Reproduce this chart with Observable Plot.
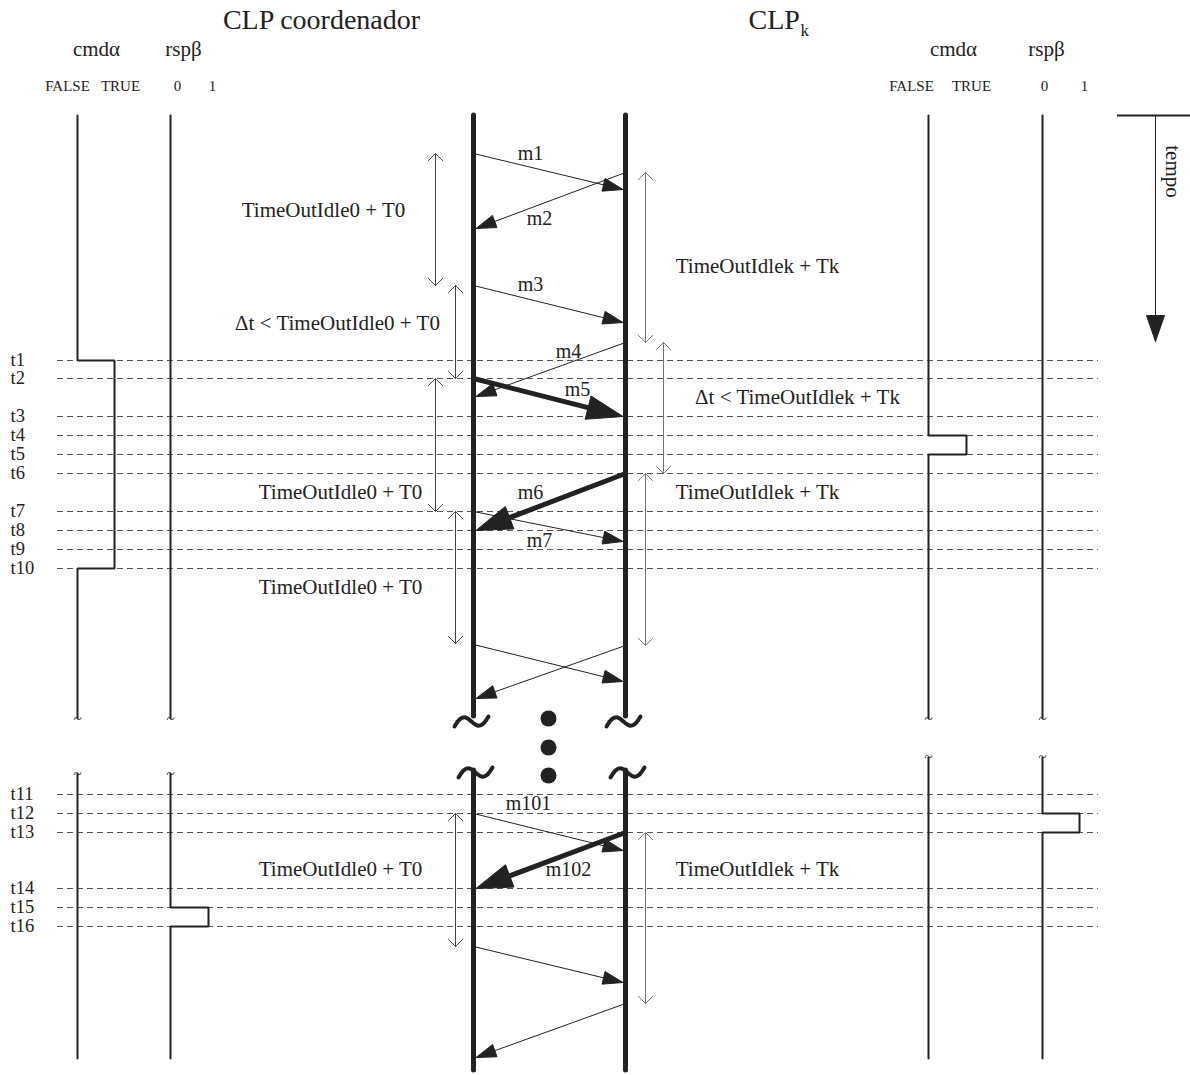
<!DOCTYPE html>
<html>
<head>
<meta charset="utf-8">
<script src="https://cdn.jsdelivr.net/npm/d3@7"></script>
<script src="https://cdn.jsdelivr.net/npm/@observablehq/plot@0.6"></script>
<style>
  html, body { margin: 0; padding: 0; background: #fff; }
  svg { display: block; }
</style>
</head>
<body>
<script>
// ---------------- DATA ----------------
// event instants (vertical time position, top = earliest)
const tNames  = ["t1","t2","t3","t4","t5","t6","t7","t8","t9","t10","t11","t12","t13","t14","t15","t16"];
const tValues = [360,378,416,435,454,473,511,530,549,568,794,813,832,888,907,926];

// signal lanes (cmdα / rspβ of each CLP)
const laneNames  = ["cmdα0","rspβ0","cmdαk","rspβk"];
const laneLow    = [77,170,928,1042];   // FALSE / 0
const laneHigh   = [114,208,966,1079];  // TRUE / 1
const laneBreakResume = [773,773,757,757];
// pulses: lane, rise instant, fall instant
const pulseLane = ["cmdα0","rspβ0","cmdαk","rspβk"];
const pulseRise = ["t1","t15","t4","t12"];
const pulseFall = ["t10","t16","t5","t13"];

// time span of the diagram and its break
const timeStart = 115, breakStart = 716, breakEnd = 770, timeEnd = 1070, laneEnd = 1058;

// processes (lifelines)
const procNames = ["coord","k"];
const procX = [473,625];

// messages
const msgLabels  = ["m1","m2","m3","m4","m5","m6","m7","","","m101","m102","",""];
const msgFrom    = ["coord","k","coord","k","coord","k","coord","coord","k","coord","k","coord","k"];
const msgSent    = [153,172,285,342,378,473,511,644,645,813,832,946,1003];
const msgArrived = [189,228,322,396,416,530,541,681,698,850,888,982,1057];
const msgBold    = [false,false,false,false,true,true,false,false,false,false,true,false,false];

// timeout intervals
const ivProc  = ["coord","coord","coord","coord","coord","k","k","k","k"];
const ivStart = [153,285,378,511,813,172,342,473,832];
const ivEnd   = [285,378,511,643,946,342,473,645,1003];
const ivLabel = ["TimeOutIdle0 + T0","Δt < TimeOutIdle0 + T0","TimeOutIdle0 + T0","TimeOutIdle0 + T0","TimeOutIdle0 + T0",
                 "TimeOutIdlek + Tk","Δt < TimeOutIdlek + Tk","TimeOutIdlek + Tk","TimeOutIdlek + Tk"];

// ---------------- LAYOUT ----------------
const ivX      = [435,455,435,455,455,645,663,645,645];
const ivLabelX = [323,337,340,340,340,757,797,757,757];
const ivLabelY = [210,323,492,587,869,266,397,492,869];
const msgLabelX = [530,539,530,568,577,530,539,0,0,528,568,0,0];
const msgLabelY = [153,218,284,351,389,492,540,0,0,803,869,0,0];
// break marks on lifelines: centres, and the tilde outline (offsets)
const breakMarkX = [471,623,475,627];
const breakMarkY = [721,721,772,772];
const tildeDX = [-17,-12,-6,0,6,12,17];
const tildeDY = [5,-2,-4,0,4,2,-5];
const INK = "#222";
const FONT = "Liberation Serif, Times New Roman, serif";

// ---------------- BUILD ----------------
const tOf = name => tValues[tNames.indexOf(name)];
const pX = name => procX[procNames.indexOf(name)];

// signal polylines
const sigPts = [];
laneNames.forEach((lane, li) => {
  const segs = [[timeStart, breakStart + 2], [laneBreakResume[li], laneEnd]];
  segs.forEach(([a, b], si) => {
    const id = lane + si;
    const pts = [{x: laneLow[li], y: a}];
    pulseLane.forEach((pl, pi) => {
      if (pl !== lane) return;
      const r = tOf(pulseRise[pi]), f = tOf(pulseFall[pi]);
      if (r < a || r > b) return;
      pts.push({x: laneLow[li], y: r}, {x: laneHigh[li], y: r}, {x: laneHigh[li], y: f}, {x: laneLow[li], y: f});
    });
    pts.push({x: laneLow[li], y: b});
    pts.forEach(p => sigPts.push({...p, id}));
  });
});

// messages: shafts + filled heads
const shafts = [], heads = [];
function addArrow(x1, y1, x2, y2, L, w, bold, id) {
  const dx = x2 - x1, dy = y2 - y1, len = Math.hypot(dx, dy);
  const ux = dx / len, uy = dy / len, nx = -uy, ny = ux;
  const cx = x2 - L * ux, cy = y2 - L * uy;
  shafts.push({x1, y1, x2: cx + 2 * ux, y2: cy + 2 * uy, bold});
  heads.push({x: x2, y: y2, id}, {x: cx + w * nx, y: cy + w * ny, id}, {x: cx - w * nx, y: cy - w * ny, id}, {x: x2, y: y2, id});
}
msgSent.forEach((s, i) => {
  const from = msgFrom[i], to = from === "coord" ? "k" : "coord";
  const dir = Math.sign(pX(to) - pX(from));
  const bold = msgBold[i];
  addArrow(pX(from), s, pX(to) - dir * 2.5, msgArrived[i], bold ? 36 : 20, bold ? 12 : 6.5, bold, "m" + i);
});
// time arrow
addArrow(1155, 115, 1155, 341, 26, 9, false, "tempo");

const msgText = msgLabels.map((l, i) => ({l, x: msgLabelX[i], y: msgLabelY[i]})).filter(d => d.l);

// interval double arrows (drawn from midpoint outward)
const ivArrows = [];
ivStart.forEach((s, i) => {
  const m = (s + ivEnd[i]) / 2;
  const col = ivProc[i] === "coord" ? "#444" : "#777";
  ivArrows.push({x: ivX[i], y1: m, y2: s, col}, {x: ivX[i], y1: m, y2: ivEnd[i], col});
});

const lifeSegs = [];
procX.forEach(x => { lifeSegs.push({x, y1: timeStart, y2: breakStart}, {x, y1: breakEnd, y2: timeEnd}); });

const tildePts = [];
breakMarkX.forEach((cx, i) => tildeDX.forEach((dx, j) => tildePts.push({x: cx + dx, y: breakMarkY[i] + tildeDY[j], id: i})));

const chart = Plot.plot({
  width: 1190, height: 1075, margin: 0,
  x: {domain: [0, 1190], range: [0, 1190]},
  y: {domain: [0, 1075], range: [0, 1075]},
  axis: null,
  style: {background: "white", fontFamily: FONT},
  marks: [
    // event instants
    Plot.ruleY(tValues, {x1: 57, x2: 1098, stroke: "#555", strokeWidth: 1, strokeDasharray: "6,4"}),
    Plot.text(tNames, {x: 10, y: tValues, text: d => d, textAnchor: "start", fontSize: 18.5, fill: INK, fontFamily: FONT}),
    // signal lanes
    Plot.line(sigPts, {x: "x", y: "y", z: "id", stroke: INK, strokeWidth: 2, curve: "linear", strokeLinejoin: "miter"}),
    Plot.text([77,170,77,170,928,1042], {x: d => d, y: (d, i) => i < 4 ? (i < 2 ? 719 : 774) : 719, text: () => "~", fontSize: 15, fill: INK, fontFamily: FONT}),
    Plot.text([928,1042], {x: d => d, y: 757, text: () => "~", fontSize: 15, fill: INK, fontFamily: FONT}),
    // lifelines
    Plot.ruleX(lifeSegs, {x: "x", y1: "y1", y2: "y2", stroke: INK, strokeWidth: 5, strokeLinecap: "round"}),
    Plot.line(tildePts, {x: "x", y: "y", z: "id", stroke: INK, strokeWidth: 4, curve: "natural", strokeLinecap: "round"}),
    Plot.dot([718,747,775], {x: 548, y: d => d, r: 8, fill: INK, stroke: "none"}),
    // interval arrows
    Plot.arrow(ivArrows, {x1: "x", x2: "x", y1: "y1", y2: "y2", stroke: "col", strokeWidth: 1, headLength: 15, headAngle: 90}),
    Plot.text(ivLabel, {x: ivLabelX, y: ivLabelY, text: d => d, fontSize: 21, fill: INK, fontFamily: FONT}),
    // messages
    Plot.link(shafts.filter(d => !d.bold), {x1: "x1", y1: "y1", x2: "x2", y2: "y2", stroke: INK, strokeWidth: 1}),
    Plot.link(shafts.filter(d => d.bold), {x1: "x1", y1: "y1", x2: "x2", y2: "y2", stroke: INK, strokeWidth: 5}),
    Plot.line(heads, {x: "x", y: "y", z: "id", fill: INK, stroke: INK, strokeWidth: 1, curve: "linear-closed"}),
    Plot.text(msgText, {x: "x", y: "y", text: "l", fontSize: 20, fill: INK, fontFamily: FONT}),
    // time axis
    Plot.ruleY([115], {x1: 1117, x2: 1190, stroke: INK, strokeWidth: 2}),
    Plot.text(["tempo"], {x: 1172, y: 171, text: d => d, rotate: 90, fontSize: 21, fill: INK, fontFamily: FONT}),
    // headers
    Plot.text(["CLP coordenador"], {x: 321, y: 20, text: d => d, fontSize: 28, fill: INK, fontFamily: FONT}),
    Plot.text(["CLP"], {x: 748, y: 20, text: d => d, textAnchor: "start", fontSize: 28, fill: INK, fontFamily: FONT}),
    Plot.text(["k"], {x: 800, y: 30, text: d => d, textAnchor: "start", fontSize: 17, fill: INK, fontFamily: FONT}),
    Plot.text(["cmdα","rspβ","cmdα","rspβ"], {x: [96,183,953,1046], y: 49, text: d => d, fontSize: 21, fill: INK, fontFamily: FONT}),
    Plot.text(["FALSE","TRUE","0","1","FALSE","TRUE","0","1"], {x: [67,120,177,212,911,971,1044,1084], y: 86, text: d => d, fontSize: 15, fill: INK, fontFamily: FONT})
  ]
});
document.body.appendChild(chart);
</script>
</body>
</html>
